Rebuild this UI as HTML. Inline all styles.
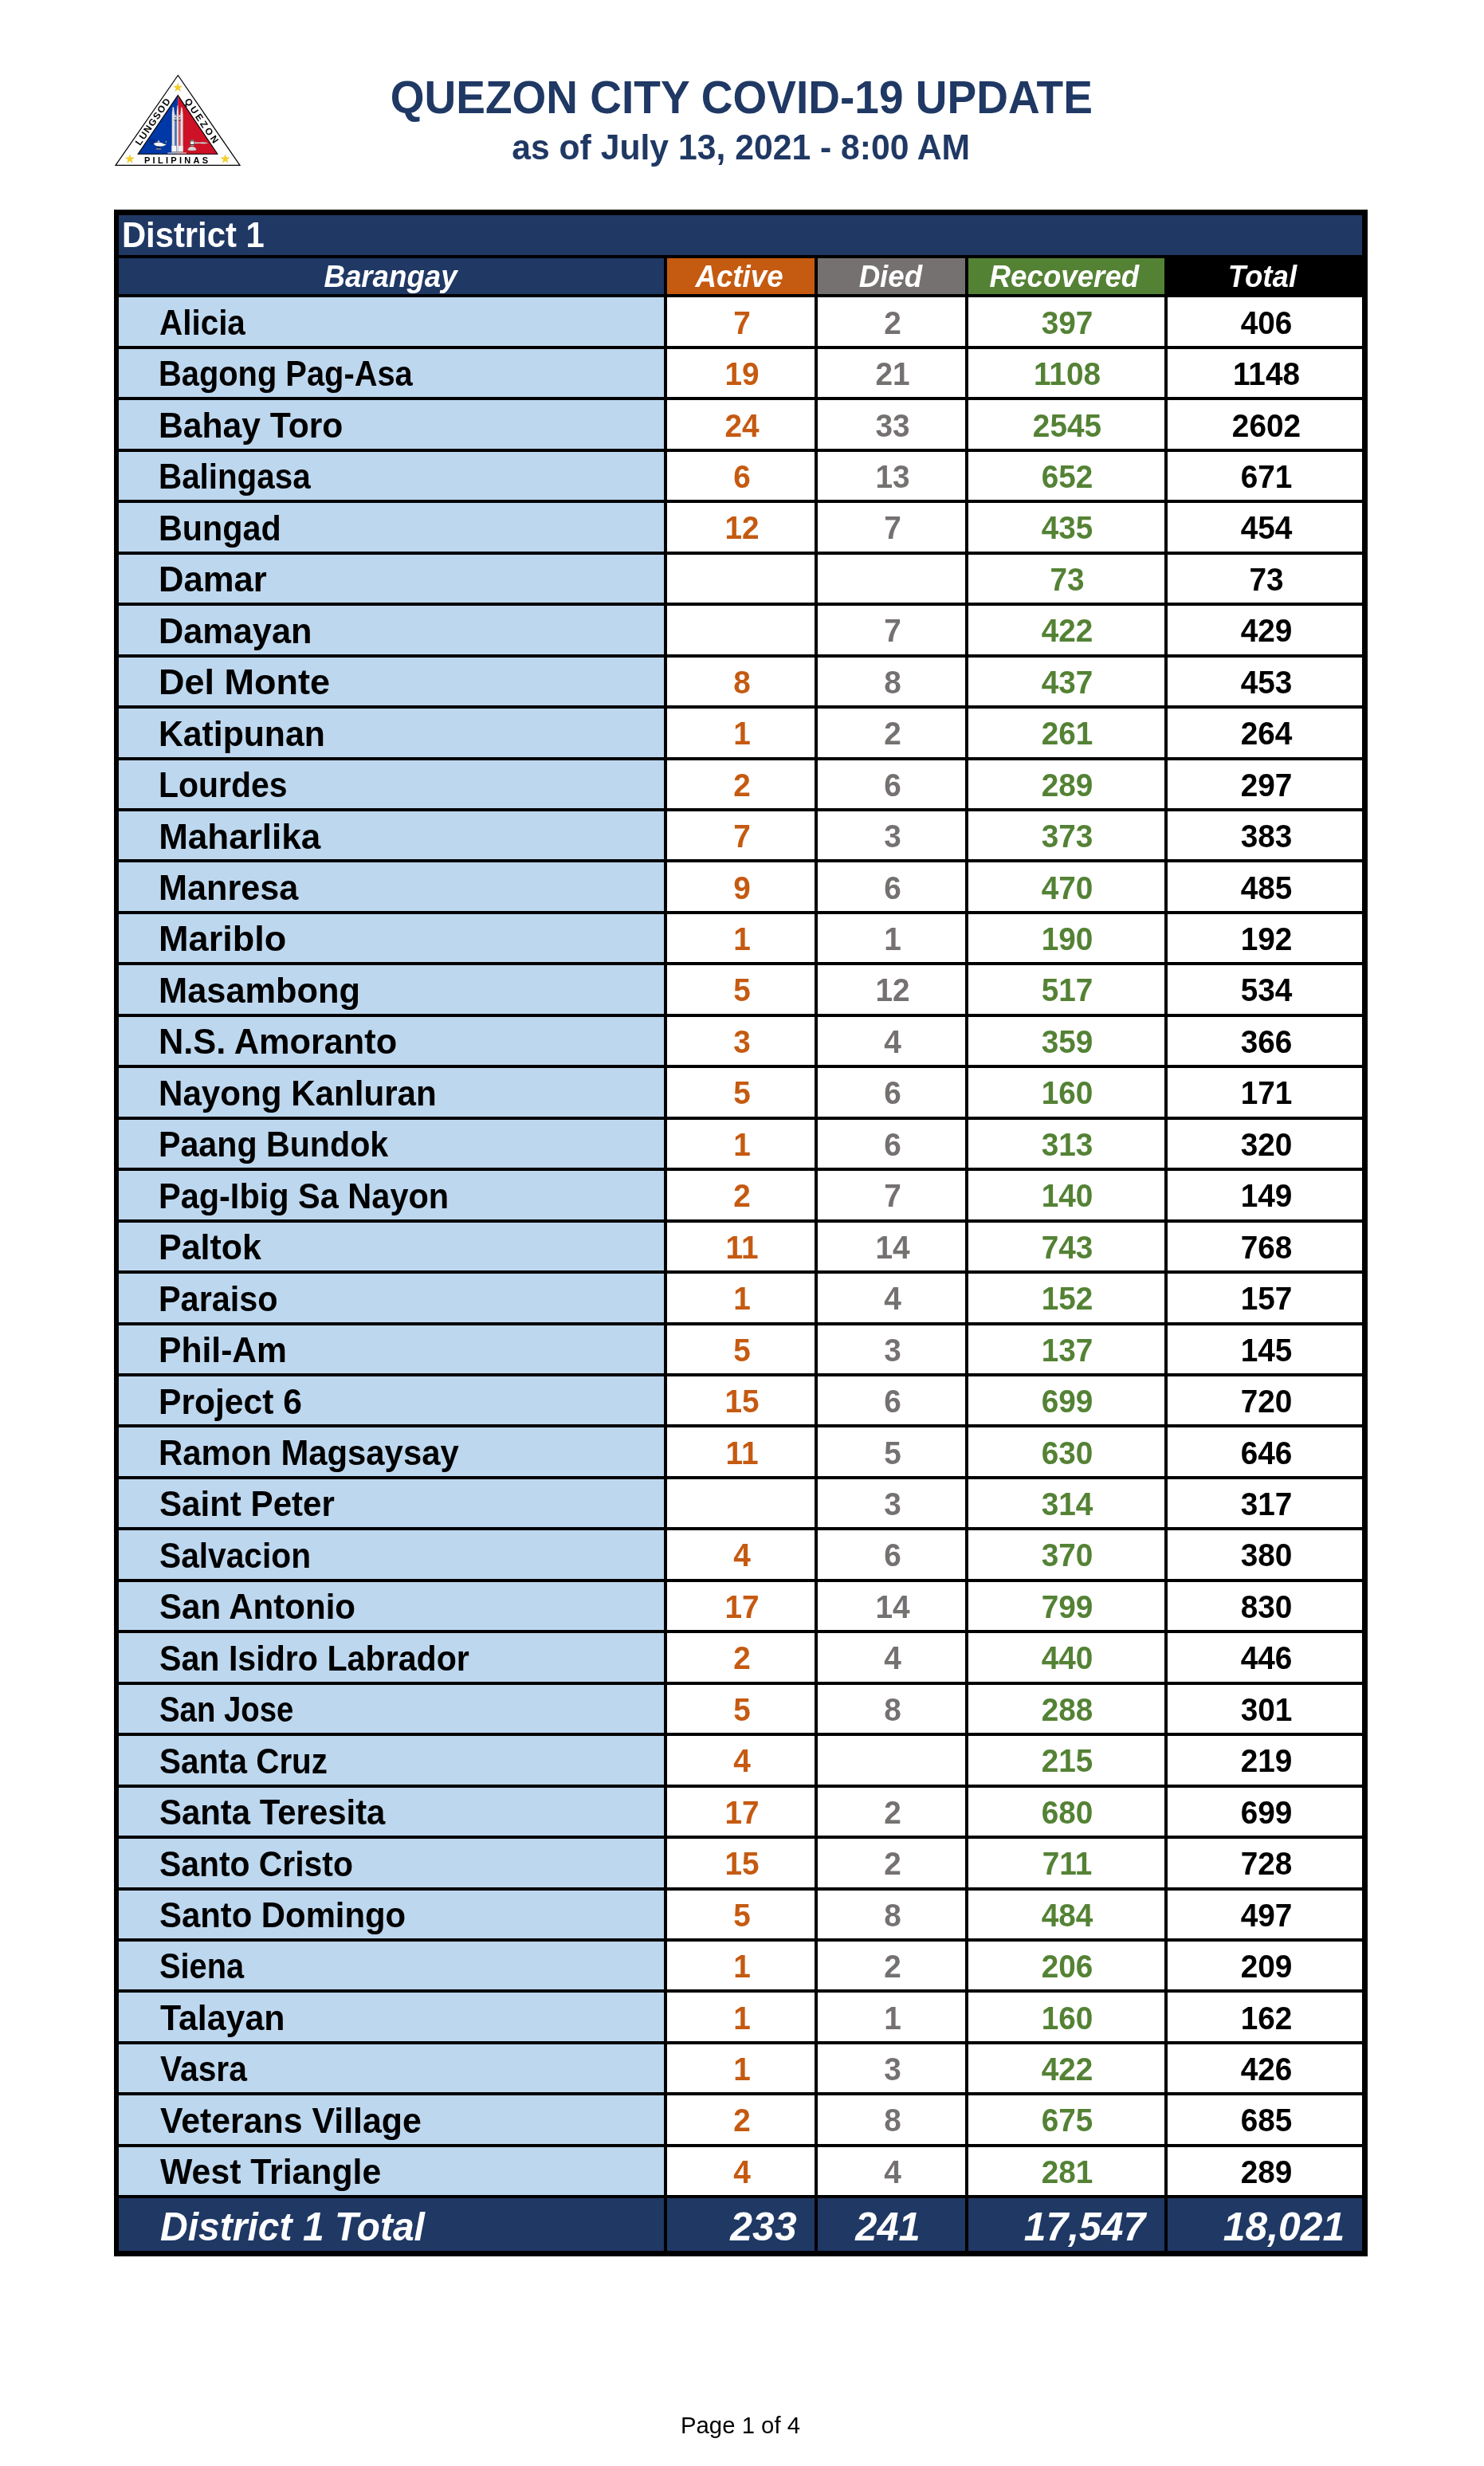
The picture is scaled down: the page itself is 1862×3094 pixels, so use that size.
<!DOCTYPE html>
<html><head><meta charset="utf-8"><title>Quezon City COVID-19 Update</title>
<style>
html,body{margin:0;padding:0;background:#fff}
body{width:1862px;height:3094px;position:relative;overflow:hidden;font-family:"Liberation Sans",sans-serif}
#page{position:absolute;left:0;top:0;width:1862px;height:3094px;background:#fff;will-change:transform;transform:translateZ(0)}
.r{position:absolute}
.t{position:absolute;white-space:nowrap;line-height:1;font-family:"Liberation Sans",sans-serif}
.b{font-weight:bold}
.bi{font-weight:bold;font-style:italic}
.n{font-weight:normal}
svg{position:absolute}
</style></head><body><div id="page">
<svg style="left:130px;top:80px" width="190" height="140" viewBox="130 80 190 140">
<polygon points="223.3,94.5 145.0,207.3 301.0,207.3" fill="#fff" stroke="#000" stroke-width="1.25" stroke-linejoin="miter"/>
<polygon points="223.2,119.6 173.2,193.3 223.2,193.3" fill="#0038a8"/>
<polygon points="223.2,119.6 223.2,193.3 272.9,193.3" fill="#ce1126"/>
<polygon points="223.2,119.6 173.2,193.3 272.9,193.3" fill="none" stroke="#000" stroke-width="1.1" stroke-linejoin="miter"/>
<polygon points="223.20,104.30 224.46,108.17 228.53,108.17 225.23,110.56 226.49,114.43 223.20,112.04 219.91,114.43 221.17,110.56 217.87,108.17 221.94,108.17" fill="#fcd116" stroke="#c9a40e" stroke-width="0.3"/>
<polygon points="162.90,194.00 164.16,197.87 168.23,197.87 164.93,200.26 166.19,204.13 162.90,201.74 159.61,204.13 160.87,200.26 157.57,197.87 161.64,197.87" fill="#fcd116" stroke="#c9a40e" stroke-width="0.3"/>
<polygon points="282.60,194.00 283.86,197.87 287.93,197.87 284.63,200.26 285.89,204.13 282.60,201.74 279.31,204.13 280.57,200.26 277.27,197.87 281.34,197.87" fill="#fcd116" stroke="#c9a40e" stroke-width="0.3"/>
<g>
<rect x="219.0" y="143.5" width="2.8" height="39.3" fill="#fff" opacity="0.28"/>
<rect x="223.8" y="143.5" width="2.8" height="39.3" fill="#fff" opacity="0.30"/>
<polygon points="215.8,190.2 215.8,143 216.6,134.4 218.0,134.4 219.1,143 219.1,190.2" fill="#e4e4e4" stroke="#9a9a9a" stroke-width="0.35"/>
<polygon points="226.5,190.2 226.5,143 227.3,134.7 228.5,134.7 229.6,143 229.6,190.2" fill="#e4e4e4" stroke="#9a9a9a" stroke-width="0.35"/>
<polygon points="221.8,190.2 221.8,140 222.5,132.3 223.3,132.3 223.9,140 223.9,190.2" fill="#f2f2f2" stroke="#8e8e8e" stroke-width="0.35"/>
<polygon points="219.1,143.8 221.8,146.6 221.8,150.6 219.1,150.6" fill="#d9d9dc"/>
<polygon points="226.5,143.8 223.9,146.6 223.9,150.6 226.5,150.6" fill="#d9d9dc"/>
<rect x="218.4" y="150.3" width="3.4" height="0.9" fill="#222"/><rect x="223.9" y="150.3" width="3.2" height="0.9" fill="#222"/>
<rect x="219.4" y="147.0" width="2.0" height="1.6" fill="#3a55b0"/><rect x="224.3" y="147.0" width="1.8" height="1.6" fill="#b01a2a"/>
<rect x="215.3" y="182.8" width="6.1" height="7.4" fill="#f6f6f6" stroke="#aaa" stroke-width="0.3"/>
<rect x="223.9" y="182.8" width="5.9" height="7.4" fill="#f0f0f0" stroke="#aaa" stroke-width="0.3"/>
<rect x="215.2" y="190.1" width="14.7" height="1.6" fill="#8f8f8f"/>
<rect x="210.4" y="191.2" width="23.6" height="1.7" fill="#fff" opacity="0.55"/>
</g>
<g>
<circle cx="190.8" cy="177.7" r="3.1" fill="none" stroke="#0b1a55" stroke-width="0.7"/>
<circle cx="191.2" cy="177.7" r="1.6" fill="none" stroke="#0b1a55" stroke-width="0.4"/>
<path d="M192.4,180.0 C194.5,179.2 196.3,178.5 198.9,178.4 C201.6,178.4 203.6,179.2 205.6,180.4 L209.0,181.2 C207.4,182.8 203.8,183.8 200.2,183.8 C196.2,183.8 193.6,182.4 192.4,180.0 Z" fill="#fff" stroke="#2a2a2a" stroke-width="0.35"/>
<path d="M197.5,178.4 L198.1,176.3 L199.9,176.3 L200.5,178.4 Z" fill="#f4f4f4" stroke="#222" stroke-width="0.35"/>
<rect x="198.2" y="183.8" width="1.5" height="2.3" fill="#111"/>
<path d="M194.6,186.9 C196,185.9 202,185.9 203.4,186.9 C202,187.6 196,187.6 194.6,186.9 Z" fill="#fff" stroke="#111" stroke-width="0.45"/>
<path d="M208.4,175.4 L209.1,177.4 L208.9,179.4 L207.9,179.4 L207.7,177.4 Z" fill="#e9dfa6" stroke="#0b1a55" stroke-width="0.5"/>
</g>
<g>
<rect x="238.8" y="175.4" width="4.8" height="7.5" rx="0.8" fill="#f2f2f2" stroke="#3a3a3a" stroke-width="0.5"/>
<rect x="238.8" y="176.3" width="4.8" height="1.0" fill="#2a2a2a"/><rect x="238.8" y="181.0" width="4.8" height="1.1" fill="#2a2a2a"/>
<path d="M243.6,178.3 L250,178.5 L255,178.3 L260.4,179.0 L260.6,179.9 L255,180.4 L250,180.1 L243.6,180.3 Z" fill="#dedede" stroke="#7d3038" stroke-width="0.3"/>
<path d="M235.5,188.3 C236.2,185.2 238.3,184.1 241,184.1 C243.7,184.1 245.8,185.2 246.5,188.3 C244,189.3 238,189.3 235.5,188.3 Z" fill="#cfd3d3" stroke="#8c8c8c" stroke-width="0.3"/>
<path d="M237.2,186.0 C239,185.1 243,185.1 244.8,186.0" fill="none" stroke="#f4f4f4" stroke-width="0.6"/>
</g>
<text transform="translate(195.4,154.5) rotate(-55.60)" text-anchor="middle" font-family="Liberation Sans, sans-serif" font-weight="bold" font-size="11.9" letter-spacing="1.45" fill="#000">LUNGSOD</text>
<text transform="translate(250.4,154.9) rotate(55.60)" text-anchor="middle" font-family="Liberation Sans, sans-serif" font-weight="bold" font-size="11.9" letter-spacing="2.9" fill="#000">QUEZON</text>
<text x="181.0" y="204.9" font-family="Liberation Sans, sans-serif" font-weight="bold" font-size="11" textLength="80" lengthAdjust="spacing" fill="#000">PILIPINAS</text>
</svg>
<div class="t b" id="title" style="left:230.30px;top:96px;font-size:55.0px;color:#1f3864;width:1400px;text-align:center;transform:scale(1.0000,1.0410);transform-origin:50% 46px;">QUEZON CITY COVID-19 UPDATE</div>
<div class="t b" id="sub" style="left:229.70px;top:164px;font-size:42.7px;color:#1f3864;width:1400px;text-align:center;transform:scale(1.0000,1.0410);transform-origin:50% 36px;">as of July 13, 2021 - 8:00 AM</div>
<div class="r" style="left:143px;top:263px;width:1573px;height:2568px;background:#000"></div>
<div class="r" style="left:149px;top:270px;width:1560px;height:50px;background:#1f3864"></div>
<div class="r" style="left:149px;top:324px;width:684px;height:45px;background:#1f3864"></div>
<div class="r" style="left:837px;top:324px;width:185px;height:45px;background:#c55a11"></div>
<div class="r" style="left:1026px;top:324px;width:185px;height:45px;background:#767171"></div>
<div class="r" style="left:1215px;top:324px;width:246px;height:45px;background:#548235"></div>
<div class="r" style="left:149px;top:373px;width:684px;height:61px;background:#bdd7ee"></div>
<div class="r" style="left:837px;top:373px;width:185px;height:61px;background:#fff"></div>
<div class="r" style="left:1026px;top:373px;width:185px;height:61px;background:#fff"></div>
<div class="r" style="left:1215px;top:373px;width:246px;height:61px;background:#fff"></div>
<div class="r" style="left:1465px;top:373px;width:244px;height:61px;background:#fff"></div>
<div class="r" style="left:149px;top:438px;width:684px;height:60px;background:#bdd7ee"></div>
<div class="r" style="left:837px;top:438px;width:185px;height:60px;background:#fff"></div>
<div class="r" style="left:1026px;top:438px;width:185px;height:60px;background:#fff"></div>
<div class="r" style="left:1215px;top:438px;width:246px;height:60px;background:#fff"></div>
<div class="r" style="left:1465px;top:438px;width:244px;height:60px;background:#fff"></div>
<div class="r" style="left:149px;top:502px;width:684px;height:61px;background:#bdd7ee"></div>
<div class="r" style="left:837px;top:502px;width:185px;height:61px;background:#fff"></div>
<div class="r" style="left:1026px;top:502px;width:185px;height:61px;background:#fff"></div>
<div class="r" style="left:1215px;top:502px;width:246px;height:61px;background:#fff"></div>
<div class="r" style="left:1465px;top:502px;width:244px;height:61px;background:#fff"></div>
<div class="r" style="left:149px;top:567px;width:684px;height:60px;background:#bdd7ee"></div>
<div class="r" style="left:837px;top:567px;width:185px;height:60px;background:#fff"></div>
<div class="r" style="left:1026px;top:567px;width:185px;height:60px;background:#fff"></div>
<div class="r" style="left:1215px;top:567px;width:246px;height:60px;background:#fff"></div>
<div class="r" style="left:1465px;top:567px;width:244px;height:60px;background:#fff"></div>
<div class="r" style="left:149px;top:631px;width:684px;height:61px;background:#bdd7ee"></div>
<div class="r" style="left:837px;top:631px;width:185px;height:61px;background:#fff"></div>
<div class="r" style="left:1026px;top:631px;width:185px;height:61px;background:#fff"></div>
<div class="r" style="left:1215px;top:631px;width:246px;height:61px;background:#fff"></div>
<div class="r" style="left:1465px;top:631px;width:244px;height:61px;background:#fff"></div>
<div class="r" style="left:149px;top:696px;width:684px;height:60px;background:#bdd7ee"></div>
<div class="r" style="left:837px;top:696px;width:185px;height:60px;background:#fff"></div>
<div class="r" style="left:1026px;top:696px;width:185px;height:60px;background:#fff"></div>
<div class="r" style="left:1215px;top:696px;width:246px;height:60px;background:#fff"></div>
<div class="r" style="left:1465px;top:696px;width:244px;height:60px;background:#fff"></div>
<div class="r" style="left:149px;top:760px;width:684px;height:61px;background:#bdd7ee"></div>
<div class="r" style="left:837px;top:760px;width:185px;height:61px;background:#fff"></div>
<div class="r" style="left:1026px;top:760px;width:185px;height:61px;background:#fff"></div>
<div class="r" style="left:1215px;top:760px;width:246px;height:61px;background:#fff"></div>
<div class="r" style="left:1465px;top:760px;width:244px;height:61px;background:#fff"></div>
<div class="r" style="left:149px;top:825px;width:684px;height:60px;background:#bdd7ee"></div>
<div class="r" style="left:837px;top:825px;width:185px;height:60px;background:#fff"></div>
<div class="r" style="left:1026px;top:825px;width:185px;height:60px;background:#fff"></div>
<div class="r" style="left:1215px;top:825px;width:246px;height:60px;background:#fff"></div>
<div class="r" style="left:1465px;top:825px;width:244px;height:60px;background:#fff"></div>
<div class="r" style="left:149px;top:889px;width:684px;height:61px;background:#bdd7ee"></div>
<div class="r" style="left:837px;top:889px;width:185px;height:61px;background:#fff"></div>
<div class="r" style="left:1026px;top:889px;width:185px;height:61px;background:#fff"></div>
<div class="r" style="left:1215px;top:889px;width:246px;height:61px;background:#fff"></div>
<div class="r" style="left:1465px;top:889px;width:244px;height:61px;background:#fff"></div>
<div class="r" style="left:149px;top:954px;width:684px;height:60px;background:#bdd7ee"></div>
<div class="r" style="left:837px;top:954px;width:185px;height:60px;background:#fff"></div>
<div class="r" style="left:1026px;top:954px;width:185px;height:60px;background:#fff"></div>
<div class="r" style="left:1215px;top:954px;width:246px;height:60px;background:#fff"></div>
<div class="r" style="left:1465px;top:954px;width:244px;height:60px;background:#fff"></div>
<div class="r" style="left:149px;top:1018px;width:684px;height:60px;background:#bdd7ee"></div>
<div class="r" style="left:837px;top:1018px;width:185px;height:60px;background:#fff"></div>
<div class="r" style="left:1026px;top:1018px;width:185px;height:60px;background:#fff"></div>
<div class="r" style="left:1215px;top:1018px;width:246px;height:60px;background:#fff"></div>
<div class="r" style="left:1465px;top:1018px;width:244px;height:60px;background:#fff"></div>
<div class="r" style="left:149px;top:1082px;width:684px;height:61px;background:#bdd7ee"></div>
<div class="r" style="left:837px;top:1082px;width:185px;height:61px;background:#fff"></div>
<div class="r" style="left:1026px;top:1082px;width:185px;height:61px;background:#fff"></div>
<div class="r" style="left:1215px;top:1082px;width:246px;height:61px;background:#fff"></div>
<div class="r" style="left:1465px;top:1082px;width:244px;height:61px;background:#fff"></div>
<div class="r" style="left:149px;top:1147px;width:684px;height:60px;background:#bdd7ee"></div>
<div class="r" style="left:837px;top:1147px;width:185px;height:60px;background:#fff"></div>
<div class="r" style="left:1026px;top:1147px;width:185px;height:60px;background:#fff"></div>
<div class="r" style="left:1215px;top:1147px;width:246px;height:60px;background:#fff"></div>
<div class="r" style="left:1465px;top:1147px;width:244px;height:60px;background:#fff"></div>
<div class="r" style="left:149px;top:1211px;width:684px;height:61px;background:#bdd7ee"></div>
<div class="r" style="left:837px;top:1211px;width:185px;height:61px;background:#fff"></div>
<div class="r" style="left:1026px;top:1211px;width:185px;height:61px;background:#fff"></div>
<div class="r" style="left:1215px;top:1211px;width:246px;height:61px;background:#fff"></div>
<div class="r" style="left:1465px;top:1211px;width:244px;height:61px;background:#fff"></div>
<div class="r" style="left:149px;top:1276px;width:684px;height:60px;background:#bdd7ee"></div>
<div class="r" style="left:837px;top:1276px;width:185px;height:60px;background:#fff"></div>
<div class="r" style="left:1026px;top:1276px;width:185px;height:60px;background:#fff"></div>
<div class="r" style="left:1215px;top:1276px;width:246px;height:60px;background:#fff"></div>
<div class="r" style="left:1465px;top:1276px;width:244px;height:60px;background:#fff"></div>
<div class="r" style="left:149px;top:1340px;width:684px;height:61px;background:#bdd7ee"></div>
<div class="r" style="left:837px;top:1340px;width:185px;height:61px;background:#fff"></div>
<div class="r" style="left:1026px;top:1340px;width:185px;height:61px;background:#fff"></div>
<div class="r" style="left:1215px;top:1340px;width:246px;height:61px;background:#fff"></div>
<div class="r" style="left:1465px;top:1340px;width:244px;height:61px;background:#fff"></div>
<div class="r" style="left:149px;top:1405px;width:684px;height:60px;background:#bdd7ee"></div>
<div class="r" style="left:837px;top:1405px;width:185px;height:60px;background:#fff"></div>
<div class="r" style="left:1026px;top:1405px;width:185px;height:60px;background:#fff"></div>
<div class="r" style="left:1215px;top:1405px;width:246px;height:60px;background:#fff"></div>
<div class="r" style="left:1465px;top:1405px;width:244px;height:60px;background:#fff"></div>
<div class="r" style="left:149px;top:1469px;width:684px;height:61px;background:#bdd7ee"></div>
<div class="r" style="left:837px;top:1469px;width:185px;height:61px;background:#fff"></div>
<div class="r" style="left:1026px;top:1469px;width:185px;height:61px;background:#fff"></div>
<div class="r" style="left:1215px;top:1469px;width:246px;height:61px;background:#fff"></div>
<div class="r" style="left:1465px;top:1469px;width:244px;height:61px;background:#fff"></div>
<div class="r" style="left:149px;top:1534px;width:684px;height:60px;background:#bdd7ee"></div>
<div class="r" style="left:837px;top:1534px;width:185px;height:60px;background:#fff"></div>
<div class="r" style="left:1026px;top:1534px;width:185px;height:60px;background:#fff"></div>
<div class="r" style="left:1215px;top:1534px;width:246px;height:60px;background:#fff"></div>
<div class="r" style="left:1465px;top:1534px;width:244px;height:60px;background:#fff"></div>
<div class="r" style="left:149px;top:1598px;width:684px;height:61px;background:#bdd7ee"></div>
<div class="r" style="left:837px;top:1598px;width:185px;height:61px;background:#fff"></div>
<div class="r" style="left:1026px;top:1598px;width:185px;height:61px;background:#fff"></div>
<div class="r" style="left:1215px;top:1598px;width:246px;height:61px;background:#fff"></div>
<div class="r" style="left:1465px;top:1598px;width:244px;height:61px;background:#fff"></div>
<div class="r" style="left:149px;top:1663px;width:684px;height:60px;background:#bdd7ee"></div>
<div class="r" style="left:837px;top:1663px;width:185px;height:60px;background:#fff"></div>
<div class="r" style="left:1026px;top:1663px;width:185px;height:60px;background:#fff"></div>
<div class="r" style="left:1215px;top:1663px;width:246px;height:60px;background:#fff"></div>
<div class="r" style="left:1465px;top:1663px;width:244px;height:60px;background:#fff"></div>
<div class="r" style="left:149px;top:1727px;width:684px;height:60px;background:#bdd7ee"></div>
<div class="r" style="left:837px;top:1727px;width:185px;height:60px;background:#fff"></div>
<div class="r" style="left:1026px;top:1727px;width:185px;height:60px;background:#fff"></div>
<div class="r" style="left:1215px;top:1727px;width:246px;height:60px;background:#fff"></div>
<div class="r" style="left:1465px;top:1727px;width:244px;height:60px;background:#fff"></div>
<div class="r" style="left:149px;top:1791px;width:684px;height:61px;background:#bdd7ee"></div>
<div class="r" style="left:837px;top:1791px;width:185px;height:61px;background:#fff"></div>
<div class="r" style="left:1026px;top:1791px;width:185px;height:61px;background:#fff"></div>
<div class="r" style="left:1215px;top:1791px;width:246px;height:61px;background:#fff"></div>
<div class="r" style="left:1465px;top:1791px;width:244px;height:61px;background:#fff"></div>
<div class="r" style="left:149px;top:1856px;width:684px;height:60px;background:#bdd7ee"></div>
<div class="r" style="left:837px;top:1856px;width:185px;height:60px;background:#fff"></div>
<div class="r" style="left:1026px;top:1856px;width:185px;height:60px;background:#fff"></div>
<div class="r" style="left:1215px;top:1856px;width:246px;height:60px;background:#fff"></div>
<div class="r" style="left:1465px;top:1856px;width:244px;height:60px;background:#fff"></div>
<div class="r" style="left:149px;top:1920px;width:684px;height:61px;background:#bdd7ee"></div>
<div class="r" style="left:837px;top:1920px;width:185px;height:61px;background:#fff"></div>
<div class="r" style="left:1026px;top:1920px;width:185px;height:61px;background:#fff"></div>
<div class="r" style="left:1215px;top:1920px;width:246px;height:61px;background:#fff"></div>
<div class="r" style="left:1465px;top:1920px;width:244px;height:61px;background:#fff"></div>
<div class="r" style="left:149px;top:1985px;width:684px;height:60px;background:#bdd7ee"></div>
<div class="r" style="left:837px;top:1985px;width:185px;height:60px;background:#fff"></div>
<div class="r" style="left:1026px;top:1985px;width:185px;height:60px;background:#fff"></div>
<div class="r" style="left:1215px;top:1985px;width:246px;height:60px;background:#fff"></div>
<div class="r" style="left:1465px;top:1985px;width:244px;height:60px;background:#fff"></div>
<div class="r" style="left:149px;top:2049px;width:684px;height:61px;background:#bdd7ee"></div>
<div class="r" style="left:837px;top:2049px;width:185px;height:61px;background:#fff"></div>
<div class="r" style="left:1026px;top:2049px;width:185px;height:61px;background:#fff"></div>
<div class="r" style="left:1215px;top:2049px;width:246px;height:61px;background:#fff"></div>
<div class="r" style="left:1465px;top:2049px;width:244px;height:61px;background:#fff"></div>
<div class="r" style="left:149px;top:2114px;width:684px;height:60px;background:#bdd7ee"></div>
<div class="r" style="left:837px;top:2114px;width:185px;height:60px;background:#fff"></div>
<div class="r" style="left:1026px;top:2114px;width:185px;height:60px;background:#fff"></div>
<div class="r" style="left:1215px;top:2114px;width:246px;height:60px;background:#fff"></div>
<div class="r" style="left:1465px;top:2114px;width:244px;height:60px;background:#fff"></div>
<div class="r" style="left:149px;top:2178px;width:684px;height:61px;background:#bdd7ee"></div>
<div class="r" style="left:837px;top:2178px;width:185px;height:61px;background:#fff"></div>
<div class="r" style="left:1026px;top:2178px;width:185px;height:61px;background:#fff"></div>
<div class="r" style="left:1215px;top:2178px;width:246px;height:61px;background:#fff"></div>
<div class="r" style="left:1465px;top:2178px;width:244px;height:61px;background:#fff"></div>
<div class="r" style="left:149px;top:2243px;width:684px;height:60px;background:#bdd7ee"></div>
<div class="r" style="left:837px;top:2243px;width:185px;height:60px;background:#fff"></div>
<div class="r" style="left:1026px;top:2243px;width:185px;height:60px;background:#fff"></div>
<div class="r" style="left:1215px;top:2243px;width:246px;height:60px;background:#fff"></div>
<div class="r" style="left:1465px;top:2243px;width:244px;height:60px;background:#fff"></div>
<div class="r" style="left:149px;top:2307px;width:684px;height:61px;background:#bdd7ee"></div>
<div class="r" style="left:837px;top:2307px;width:185px;height:61px;background:#fff"></div>
<div class="r" style="left:1026px;top:2307px;width:185px;height:61px;background:#fff"></div>
<div class="r" style="left:1215px;top:2307px;width:246px;height:61px;background:#fff"></div>
<div class="r" style="left:1465px;top:2307px;width:244px;height:61px;background:#fff"></div>
<div class="r" style="left:149px;top:2372px;width:684px;height:60px;background:#bdd7ee"></div>
<div class="r" style="left:837px;top:2372px;width:185px;height:60px;background:#fff"></div>
<div class="r" style="left:1026px;top:2372px;width:185px;height:60px;background:#fff"></div>
<div class="r" style="left:1215px;top:2372px;width:246px;height:60px;background:#fff"></div>
<div class="r" style="left:1465px;top:2372px;width:244px;height:60px;background:#fff"></div>
<div class="r" style="left:149px;top:2436px;width:684px;height:60px;background:#bdd7ee"></div>
<div class="r" style="left:837px;top:2436px;width:185px;height:60px;background:#fff"></div>
<div class="r" style="left:1026px;top:2436px;width:185px;height:60px;background:#fff"></div>
<div class="r" style="left:1215px;top:2436px;width:246px;height:60px;background:#fff"></div>
<div class="r" style="left:1465px;top:2436px;width:244px;height:60px;background:#fff"></div>
<div class="r" style="left:149px;top:2500px;width:684px;height:61px;background:#bdd7ee"></div>
<div class="r" style="left:837px;top:2500px;width:185px;height:61px;background:#fff"></div>
<div class="r" style="left:1026px;top:2500px;width:185px;height:61px;background:#fff"></div>
<div class="r" style="left:1215px;top:2500px;width:246px;height:61px;background:#fff"></div>
<div class="r" style="left:1465px;top:2500px;width:244px;height:61px;background:#fff"></div>
<div class="r" style="left:149px;top:2565px;width:684px;height:60px;background:#bdd7ee"></div>
<div class="r" style="left:837px;top:2565px;width:185px;height:60px;background:#fff"></div>
<div class="r" style="left:1026px;top:2565px;width:185px;height:60px;background:#fff"></div>
<div class="r" style="left:1215px;top:2565px;width:246px;height:60px;background:#fff"></div>
<div class="r" style="left:1465px;top:2565px;width:244px;height:60px;background:#fff"></div>
<div class="r" style="left:149px;top:2629px;width:684px;height:61px;background:#bdd7ee"></div>
<div class="r" style="left:837px;top:2629px;width:185px;height:61px;background:#fff"></div>
<div class="r" style="left:1026px;top:2629px;width:185px;height:61px;background:#fff"></div>
<div class="r" style="left:1215px;top:2629px;width:246px;height:61px;background:#fff"></div>
<div class="r" style="left:1465px;top:2629px;width:244px;height:61px;background:#fff"></div>
<div class="r" style="left:149px;top:2694px;width:684px;height:60px;background:#bdd7ee"></div>
<div class="r" style="left:837px;top:2694px;width:185px;height:60px;background:#fff"></div>
<div class="r" style="left:1026px;top:2694px;width:185px;height:60px;background:#fff"></div>
<div class="r" style="left:1215px;top:2694px;width:246px;height:60px;background:#fff"></div>
<div class="r" style="left:1465px;top:2694px;width:244px;height:60px;background:#fff"></div>
<div class="r" style="left:149px;top:2758px;width:684px;height:66px;background:#1f3864"></div>
<div class="r" style="left:837px;top:2758px;width:185px;height:66px;background:#1f3864"></div>
<div class="r" style="left:1026px;top:2758px;width:185px;height:66px;background:#1f3864"></div>
<div class="r" style="left:1215px;top:2758px;width:246px;height:66px;background:#1f3864"></div>
<div class="r" style="left:1465px;top:2758px;width:244px;height:66px;background:#1f3864"></div>
<div class="t b" id="dist" style="left:152.90px;top:275px;font-size:41.8px;color:#fff;transform:scale(1.0000,1.0410);transform-origin:0 35px;">District 1</div>
<div class="t bi" id="h0" style="left:190.00px;top:330px;font-size:36.7px;color:#fff;width:600px;text-align:center;transform:scale(1.0000,1.0410);transform-origin:50% 30px;">Barangay</div>
<div class="t bi" id="h1" style="left:837.50px;top:330px;font-size:36.7px;color:#fff;width:180px;text-align:center;transform:scale(1.0000,1.0410);transform-origin:50% 30px;">Active</div>
<div class="t bi" id="h2" style="left:1027.40px;top:330px;font-size:36.7px;color:#fff;width:180px;text-align:center;transform:scale(1.0000,1.0410);transform-origin:50% 30px;">Died</div>
<div class="t bi" id="h3" style="left:1215.40px;top:330px;font-size:36.7px;color:#fff;width:240px;text-align:center;transform:scale(1.0000,1.0410);transform-origin:50% 30px;">Recovered</div>
<div class="t bi" id="h4" style="left:1464.00px;top:330px;font-size:36.7px;color:#fff;width:240px;text-align:center;transform:scale(1.0000,1.0410);transform-origin:50% 30px;">Total</div>
<div class="t b" id="n0" style="left:200.20px;top:383px;font-size:44.0px;color:#000;transform:scale(0.9186,1.0000);transform-origin:0 37px;">Alicia</div>
<div class="t b" id="d0_0" style="left:851.00px;top:386px;font-size:40.2px;color:#c55a11;width:160px;text-align:center;transform:scale(0.9650,1.0000);transform-origin:50% 33px;">7</div>
<div class="t b" id="d0_1" style="left:1039.50px;top:386px;font-size:40.2px;color:#767171;width:160px;text-align:center;transform:scale(0.9650,1.0000);transform-origin:50% 33px;">2</div>
<div class="t b" id="d0_2" style="left:1259.30px;top:386px;font-size:40.2px;color:#548235;width:160px;text-align:center;transform:scale(0.9650,1.0000);transform-origin:50% 33px;">397</div>
<div class="t b" id="d0_3" style="left:1508.70px;top:386px;font-size:40.2px;color:#000;width:160px;text-align:center;transform:scale(0.9650,1.0000);transform-origin:50% 33px;">406</div>
<div class="t b" id="n1" style="left:199.20px;top:447px;font-size:44.0px;color:#000;transform:scale(0.9054,1.0000);transform-origin:0 37px;">Bagong Pag-Asa</div>
<div class="t b" id="d1_0" style="left:851.00px;top:450px;font-size:40.2px;color:#c55a11;width:160px;text-align:center;transform:scale(0.9650,1.0000);transform-origin:50% 33px;">19</div>
<div class="t b" id="d1_1" style="left:1039.50px;top:450px;font-size:40.2px;color:#767171;width:160px;text-align:center;transform:scale(0.9650,1.0000);transform-origin:50% 33px;">21</div>
<div class="t b" id="d1_2" style="left:1259.30px;top:450px;font-size:40.2px;color:#548235;width:160px;text-align:center;transform:scale(0.9650,1.0000);transform-origin:50% 33px;">1108</div>
<div class="t b" id="d1_3" style="left:1508.70px;top:450px;font-size:40.2px;color:#000;width:160px;text-align:center;transform:scale(0.9650,1.0000);transform-origin:50% 33px;">1148</div>
<div class="t b" id="n2" style="left:199.20px;top:512px;font-size:44.0px;color:#000;transform:scale(0.9689,1.0000);transform-origin:0 37px;">Bahay Toro</div>
<div class="t b" id="d2_0" style="left:851.00px;top:515px;font-size:40.2px;color:#c55a11;width:160px;text-align:center;transform:scale(0.9650,1.0000);transform-origin:50% 33px;">24</div>
<div class="t b" id="d2_1" style="left:1039.50px;top:515px;font-size:40.2px;color:#767171;width:160px;text-align:center;transform:scale(0.9650,1.0000);transform-origin:50% 33px;">33</div>
<div class="t b" id="d2_2" style="left:1259.30px;top:515px;font-size:40.2px;color:#548235;width:160px;text-align:center;transform:scale(0.9650,1.0000);transform-origin:50% 33px;">2545</div>
<div class="t b" id="d2_3" style="left:1508.70px;top:515px;font-size:40.2px;color:#000;width:160px;text-align:center;transform:scale(0.9650,1.0000);transform-origin:50% 33px;">2602</div>
<div class="t b" id="n3" style="left:199.20px;top:576px;font-size:44.0px;color:#000;transform:scale(0.9168,1.0000);transform-origin:0 37px;">Balingasa</div>
<div class="t b" id="d3_0" style="left:851.00px;top:579px;font-size:40.2px;color:#c55a11;width:160px;text-align:center;transform:scale(0.9650,1.0000);transform-origin:50% 33px;">6</div>
<div class="t b" id="d3_1" style="left:1039.50px;top:579px;font-size:40.2px;color:#767171;width:160px;text-align:center;transform:scale(0.9650,1.0000);transform-origin:50% 33px;">13</div>
<div class="t b" id="d3_2" style="left:1259.30px;top:579px;font-size:40.2px;color:#548235;width:160px;text-align:center;transform:scale(0.9650,1.0000);transform-origin:50% 33px;">652</div>
<div class="t b" id="d3_3" style="left:1508.70px;top:579px;font-size:40.2px;color:#000;width:160px;text-align:center;transform:scale(0.9650,1.0000);transform-origin:50% 33px;">671</div>
<div class="t b" id="n4" style="left:199.20px;top:641px;font-size:44.0px;color:#000;transform:scale(0.9380,1.0000);transform-origin:0 37px;">Bungad</div>
<div class="t b" id="d4_0" style="left:851.00px;top:643px;font-size:40.2px;color:#c55a11;width:160px;text-align:center;transform:scale(0.9650,1.0000);transform-origin:50% 33px;">12</div>
<div class="t b" id="d4_1" style="left:1039.50px;top:643px;font-size:40.2px;color:#767171;width:160px;text-align:center;transform:scale(0.9650,1.0000);transform-origin:50% 33px;">7</div>
<div class="t b" id="d4_2" style="left:1259.30px;top:643px;font-size:40.2px;color:#548235;width:160px;text-align:center;transform:scale(0.9650,1.0000);transform-origin:50% 33px;">435</div>
<div class="t b" id="d4_3" style="left:1508.70px;top:643px;font-size:40.2px;color:#000;width:160px;text-align:center;transform:scale(0.9650,1.0000);transform-origin:50% 33px;">454</div>
<div class="t b" id="n5" style="left:199.20px;top:705px;font-size:44.0px;color:#000;transform:scale(0.9912,1.0000);transform-origin:0 37px;">Damar</div>
<div class="t b" id="d5_2" style="left:1259.30px;top:708px;font-size:40.2px;color:#548235;width:160px;text-align:center;transform:scale(0.9650,1.0000);transform-origin:50% 33px;">73</div>
<div class="t b" id="d5_3" style="left:1508.70px;top:708px;font-size:40.2px;color:#000;width:160px;text-align:center;transform:scale(0.9650,1.0000);transform-origin:50% 33px;">73</div>
<div class="t b" id="n6" style="left:199.20px;top:770px;font-size:44.0px;color:#000;transform:scale(0.9836,1.0000);transform-origin:0 37px;">Damayan</div>
<div class="t b" id="d6_1" style="left:1039.50px;top:772px;font-size:40.2px;color:#767171;width:160px;text-align:center;transform:scale(0.9650,1.0000);transform-origin:50% 33px;">7</div>
<div class="t b" id="d6_2" style="left:1259.30px;top:772px;font-size:40.2px;color:#548235;width:160px;text-align:center;transform:scale(0.9650,1.0000);transform-origin:50% 33px;">422</div>
<div class="t b" id="d6_3" style="left:1508.70px;top:772px;font-size:40.2px;color:#000;width:160px;text-align:center;transform:scale(0.9650,1.0000);transform-origin:50% 33px;">429</div>
<div class="t b" id="n7" style="left:199.20px;top:834px;font-size:44.0px;color:#000;transform:scale(1.0229,1.0000);transform-origin:0 37px;">Del Monte</div>
<div class="t b" id="d7_0" style="left:851.00px;top:837px;font-size:40.2px;color:#c55a11;width:160px;text-align:center;transform:scale(0.9650,1.0000);transform-origin:50% 33px;">8</div>
<div class="t b" id="d7_1" style="left:1039.50px;top:837px;font-size:40.2px;color:#767171;width:160px;text-align:center;transform:scale(0.9650,1.0000);transform-origin:50% 33px;">8</div>
<div class="t b" id="d7_2" style="left:1259.30px;top:837px;font-size:40.2px;color:#548235;width:160px;text-align:center;transform:scale(0.9650,1.0000);transform-origin:50% 33px;">437</div>
<div class="t b" id="d7_3" style="left:1508.70px;top:837px;font-size:40.2px;color:#000;width:160px;text-align:center;transform:scale(0.9650,1.0000);transform-origin:50% 33px;">453</div>
<div class="t b" id="n8" style="left:199.20px;top:899px;font-size:44.0px;color:#000;transform:scale(0.9703,1.0000);transform-origin:0 37px;">Katipunan</div>
<div class="t b" id="d8_0" style="left:851.00px;top:901px;font-size:40.2px;color:#c55a11;width:160px;text-align:center;transform:scale(0.9650,1.0000);transform-origin:50% 33px;">1</div>
<div class="t b" id="d8_1" style="left:1039.50px;top:901px;font-size:40.2px;color:#767171;width:160px;text-align:center;transform:scale(0.9650,1.0000);transform-origin:50% 33px;">2</div>
<div class="t b" id="d8_2" style="left:1259.30px;top:901px;font-size:40.2px;color:#548235;width:160px;text-align:center;transform:scale(0.9650,1.0000);transform-origin:50% 33px;">261</div>
<div class="t b" id="d8_3" style="left:1508.70px;top:901px;font-size:40.2px;color:#000;width:160px;text-align:center;transform:scale(0.9650,1.0000);transform-origin:50% 33px;">264</div>
<div class="t b" id="n9" style="left:199.20px;top:963px;font-size:44.0px;color:#000;transform:scale(0.9302,1.0000);transform-origin:0 37px;">Lourdes</div>
<div class="t b" id="d9_0" style="left:851.00px;top:966px;font-size:40.2px;color:#c55a11;width:160px;text-align:center;transform:scale(0.9650,1.0000);transform-origin:50% 33px;">2</div>
<div class="t b" id="d9_1" style="left:1039.50px;top:966px;font-size:40.2px;color:#767171;width:160px;text-align:center;transform:scale(0.9650,1.0000);transform-origin:50% 33px;">6</div>
<div class="t b" id="d9_2" style="left:1259.30px;top:966px;font-size:40.2px;color:#548235;width:160px;text-align:center;transform:scale(0.9650,1.0000);transform-origin:50% 33px;">289</div>
<div class="t b" id="d9_3" style="left:1508.70px;top:966px;font-size:40.2px;color:#000;width:160px;text-align:center;transform:scale(0.9650,1.0000);transform-origin:50% 33px;">297</div>
<div class="t b" id="n10" style="left:199.20px;top:1028px;font-size:44.0px;color:#000;">Maharlika</div>
<div class="t b" id="d10_0" style="left:851.00px;top:1030px;font-size:40.2px;color:#c55a11;width:160px;text-align:center;transform:scale(0.9650,1.0000);transform-origin:50% 33px;">7</div>
<div class="t b" id="d10_1" style="left:1039.50px;top:1030px;font-size:40.2px;color:#767171;width:160px;text-align:center;transform:scale(0.9650,1.0000);transform-origin:50% 33px;">3</div>
<div class="t b" id="d10_2" style="left:1259.30px;top:1030px;font-size:40.2px;color:#548235;width:160px;text-align:center;transform:scale(0.9650,1.0000);transform-origin:50% 33px;">373</div>
<div class="t b" id="d10_3" style="left:1508.70px;top:1030px;font-size:40.2px;color:#000;width:160px;text-align:center;transform:scale(0.9650,1.0000);transform-origin:50% 33px;">383</div>
<div class="t b" id="n11" style="left:199.20px;top:1092px;font-size:44.0px;color:#000;transform:scale(0.9817,1.0000);transform-origin:0 37px;">Manresa</div>
<div class="t b" id="d11_0" style="left:851.00px;top:1095px;font-size:40.2px;color:#c55a11;width:160px;text-align:center;transform:scale(0.9650,1.0000);transform-origin:50% 33px;">9</div>
<div class="t b" id="d11_1" style="left:1039.50px;top:1095px;font-size:40.2px;color:#767171;width:160px;text-align:center;transform:scale(0.9650,1.0000);transform-origin:50% 33px;">6</div>
<div class="t b" id="d11_2" style="left:1259.30px;top:1095px;font-size:40.2px;color:#548235;width:160px;text-align:center;transform:scale(0.9650,1.0000);transform-origin:50% 33px;">470</div>
<div class="t b" id="d11_3" style="left:1508.70px;top:1095px;font-size:40.2px;color:#000;width:160px;text-align:center;transform:scale(0.9650,1.0000);transform-origin:50% 33px;">485</div>
<div class="t b" id="n12" style="left:199.20px;top:1156px;font-size:44.0px;color:#000;transform:scale(1.0247,1.0000);transform-origin:0 37px;">Mariblo</div>
<div class="t b" id="d12_0" style="left:851.00px;top:1159px;font-size:40.2px;color:#c55a11;width:160px;text-align:center;transform:scale(0.9650,1.0000);transform-origin:50% 33px;">1</div>
<div class="t b" id="d12_1" style="left:1039.50px;top:1159px;font-size:40.2px;color:#767171;width:160px;text-align:center;transform:scale(0.9650,1.0000);transform-origin:50% 33px;">1</div>
<div class="t b" id="d12_2" style="left:1259.30px;top:1159px;font-size:40.2px;color:#548235;width:160px;text-align:center;transform:scale(0.9650,1.0000);transform-origin:50% 33px;">190</div>
<div class="t b" id="d12_3" style="left:1508.70px;top:1159px;font-size:40.2px;color:#000;width:160px;text-align:center;transform:scale(0.9650,1.0000);transform-origin:50% 33px;">192</div>
<div class="t b" id="n13" style="left:199.20px;top:1221px;font-size:44.0px;color:#000;transform:scale(0.9858,1.0000);transform-origin:0 37px;">Masambong</div>
<div class="t b" id="d13_0" style="left:851.00px;top:1223px;font-size:40.2px;color:#c55a11;width:160px;text-align:center;transform:scale(0.9650,1.0000);transform-origin:50% 33px;">5</div>
<div class="t b" id="d13_1" style="left:1039.50px;top:1223px;font-size:40.2px;color:#767171;width:160px;text-align:center;transform:scale(0.9650,1.0000);transform-origin:50% 33px;">12</div>
<div class="t b" id="d13_2" style="left:1259.30px;top:1223px;font-size:40.2px;color:#548235;width:160px;text-align:center;transform:scale(0.9650,1.0000);transform-origin:50% 33px;">517</div>
<div class="t b" id="d13_3" style="left:1508.70px;top:1223px;font-size:40.2px;color:#000;width:160px;text-align:center;transform:scale(0.9650,1.0000);transform-origin:50% 33px;">534</div>
<div class="t b" id="n14" style="left:199.20px;top:1285px;font-size:44.0px;color:#000;transform:scale(0.9842,1.0000);transform-origin:0 37px;">N.S. Amoranto</div>
<div class="t b" id="d14_0" style="left:851.00px;top:1288px;font-size:40.2px;color:#c55a11;width:160px;text-align:center;transform:scale(0.9650,1.0000);transform-origin:50% 33px;">3</div>
<div class="t b" id="d14_1" style="left:1039.50px;top:1288px;font-size:40.2px;color:#767171;width:160px;text-align:center;transform:scale(0.9650,1.0000);transform-origin:50% 33px;">4</div>
<div class="t b" id="d14_2" style="left:1259.30px;top:1288px;font-size:40.2px;color:#548235;width:160px;text-align:center;transform:scale(0.9650,1.0000);transform-origin:50% 33px;">359</div>
<div class="t b" id="d14_3" style="left:1508.70px;top:1288px;font-size:40.2px;color:#000;width:160px;text-align:center;transform:scale(0.9650,1.0000);transform-origin:50% 33px;">366</div>
<div class="t b" id="n15" style="left:199.20px;top:1350px;font-size:44.0px;color:#000;transform:scale(0.9575,1.0000);transform-origin:0 37px;">Nayong Kanluran</div>
<div class="t b" id="d15_0" style="left:851.00px;top:1352px;font-size:40.2px;color:#c55a11;width:160px;text-align:center;transform:scale(0.9650,1.0000);transform-origin:50% 33px;">5</div>
<div class="t b" id="d15_1" style="left:1039.50px;top:1352px;font-size:40.2px;color:#767171;width:160px;text-align:center;transform:scale(0.9650,1.0000);transform-origin:50% 33px;">6</div>
<div class="t b" id="d15_2" style="left:1259.30px;top:1352px;font-size:40.2px;color:#548235;width:160px;text-align:center;transform:scale(0.9650,1.0000);transform-origin:50% 33px;">160</div>
<div class="t b" id="d15_3" style="left:1508.70px;top:1352px;font-size:40.2px;color:#000;width:160px;text-align:center;transform:scale(0.9650,1.0000);transform-origin:50% 33px;">171</div>
<div class="t b" id="n16" style="left:199.20px;top:1414px;font-size:44.0px;color:#000;transform:scale(0.9356,1.0000);transform-origin:0 37px;">Paang Bundok</div>
<div class="t b" id="d16_0" style="left:851.00px;top:1417px;font-size:40.2px;color:#c55a11;width:160px;text-align:center;transform:scale(0.9650,1.0000);transform-origin:50% 33px;">1</div>
<div class="t b" id="d16_1" style="left:1039.50px;top:1417px;font-size:40.2px;color:#767171;width:160px;text-align:center;transform:scale(0.9650,1.0000);transform-origin:50% 33px;">6</div>
<div class="t b" id="d16_2" style="left:1259.30px;top:1417px;font-size:40.2px;color:#548235;width:160px;text-align:center;transform:scale(0.9650,1.0000);transform-origin:50% 33px;">313</div>
<div class="t b" id="d16_3" style="left:1508.70px;top:1417px;font-size:40.2px;color:#000;width:160px;text-align:center;transform:scale(0.9650,1.0000);transform-origin:50% 33px;">320</div>
<div class="t b" id="n17" style="left:199.20px;top:1479px;font-size:44.0px;color:#000;transform:scale(0.9426,1.0000);transform-origin:0 37px;">Pag-Ibig Sa Nayon</div>
<div class="t b" id="d17_0" style="left:851.00px;top:1481px;font-size:40.2px;color:#c55a11;width:160px;text-align:center;transform:scale(0.9650,1.0000);transform-origin:50% 33px;">2</div>
<div class="t b" id="d17_1" style="left:1039.50px;top:1481px;font-size:40.2px;color:#767171;width:160px;text-align:center;transform:scale(0.9650,1.0000);transform-origin:50% 33px;">7</div>
<div class="t b" id="d17_2" style="left:1259.30px;top:1481px;font-size:40.2px;color:#548235;width:160px;text-align:center;transform:scale(0.9650,1.0000);transform-origin:50% 33px;">140</div>
<div class="t b" id="d17_3" style="left:1508.70px;top:1481px;font-size:40.2px;color:#000;width:160px;text-align:center;transform:scale(0.9650,1.0000);transform-origin:50% 33px;">149</div>
<div class="t b" id="n18" style="left:199.20px;top:1543px;font-size:44.0px;color:#000;transform:scale(0.9769,1.0000);transform-origin:0 37px;">Paltok</div>
<div class="t b" id="d18_0" style="left:851.00px;top:1546px;font-size:40.2px;color:#c55a11;width:160px;text-align:center;transform:scale(0.9650,1.0000);transform-origin:50% 33px;">11</div>
<div class="t b" id="d18_1" style="left:1039.50px;top:1546px;font-size:40.2px;color:#767171;width:160px;text-align:center;transform:scale(0.9650,1.0000);transform-origin:50% 33px;">14</div>
<div class="t b" id="d18_2" style="left:1259.30px;top:1546px;font-size:40.2px;color:#548235;width:160px;text-align:center;transform:scale(0.9650,1.0000);transform-origin:50% 33px;">743</div>
<div class="t b" id="d18_3" style="left:1508.70px;top:1546px;font-size:40.2px;color:#000;width:160px;text-align:center;transform:scale(0.9650,1.0000);transform-origin:50% 33px;">768</div>
<div class="t b" id="n19" style="left:199.20px;top:1608px;font-size:44.0px;color:#000;transform:scale(0.9412,1.0000);transform-origin:0 37px;">Paraiso</div>
<div class="t b" id="d19_0" style="left:851.00px;top:1610px;font-size:40.2px;color:#c55a11;width:160px;text-align:center;transform:scale(0.9650,1.0000);transform-origin:50% 33px;">1</div>
<div class="t b" id="d19_1" style="left:1039.50px;top:1610px;font-size:40.2px;color:#767171;width:160px;text-align:center;transform:scale(0.9650,1.0000);transform-origin:50% 33px;">4</div>
<div class="t b" id="d19_2" style="left:1259.30px;top:1610px;font-size:40.2px;color:#548235;width:160px;text-align:center;transform:scale(0.9650,1.0000);transform-origin:50% 33px;">152</div>
<div class="t b" id="d19_3" style="left:1508.70px;top:1610px;font-size:40.2px;color:#000;width:160px;text-align:center;transform:scale(0.9650,1.0000);transform-origin:50% 33px;">157</div>
<div class="t b" id="n20" style="left:199.20px;top:1672px;font-size:44.0px;color:#000;transform:scale(0.9686,1.0000);transform-origin:0 37px;">Phil-Am</div>
<div class="t b" id="d20_0" style="left:851.00px;top:1675px;font-size:40.2px;color:#c55a11;width:160px;text-align:center;transform:scale(0.9650,1.0000);transform-origin:50% 33px;">5</div>
<div class="t b" id="d20_1" style="left:1039.50px;top:1675px;font-size:40.2px;color:#767171;width:160px;text-align:center;transform:scale(0.9650,1.0000);transform-origin:50% 33px;">3</div>
<div class="t b" id="d20_2" style="left:1259.30px;top:1675px;font-size:40.2px;color:#548235;width:160px;text-align:center;transform:scale(0.9650,1.0000);transform-origin:50% 33px;">137</div>
<div class="t b" id="d20_3" style="left:1508.70px;top:1675px;font-size:40.2px;color:#000;width:160px;text-align:center;transform:scale(0.9650,1.0000);transform-origin:50% 33px;">145</div>
<div class="t b" id="n21" style="left:199.20px;top:1737px;font-size:44.0px;color:#000;transform:scale(0.9674,1.0000);transform-origin:0 37px;">Project 6</div>
<div class="t b" id="d21_0" style="left:851.00px;top:1739px;font-size:40.2px;color:#c55a11;width:160px;text-align:center;transform:scale(0.9650,1.0000);transform-origin:50% 33px;">15</div>
<div class="t b" id="d21_1" style="left:1039.50px;top:1739px;font-size:40.2px;color:#767171;width:160px;text-align:center;transform:scale(0.9650,1.0000);transform-origin:50% 33px;">6</div>
<div class="t b" id="d21_2" style="left:1259.30px;top:1739px;font-size:40.2px;color:#548235;width:160px;text-align:center;transform:scale(0.9650,1.0000);transform-origin:50% 33px;">699</div>
<div class="t b" id="d21_3" style="left:1508.70px;top:1739px;font-size:40.2px;color:#000;width:160px;text-align:center;transform:scale(0.9650,1.0000);transform-origin:50% 33px;">720</div>
<div class="t b" id="n22" style="left:199.20px;top:1801px;font-size:44.0px;color:#000;transform:scale(0.9508,1.0000);transform-origin:0 37px;">Ramon Magsaysay</div>
<div class="t b" id="d22_0" style="left:851.00px;top:1804px;font-size:40.2px;color:#c55a11;width:160px;text-align:center;transform:scale(0.9650,1.0000);transform-origin:50% 33px;">11</div>
<div class="t b" id="d22_1" style="left:1039.50px;top:1804px;font-size:40.2px;color:#767171;width:160px;text-align:center;transform:scale(0.9650,1.0000);transform-origin:50% 33px;">5</div>
<div class="t b" id="d22_2" style="left:1259.30px;top:1804px;font-size:40.2px;color:#548235;width:160px;text-align:center;transform:scale(0.9650,1.0000);transform-origin:50% 33px;">630</div>
<div class="t b" id="d22_3" style="left:1508.70px;top:1804px;font-size:40.2px;color:#000;width:160px;text-align:center;transform:scale(0.9650,1.0000);transform-origin:50% 33px;">646</div>
<div class="t b" id="n23" style="left:200.30px;top:1865px;font-size:44.0px;color:#000;transform:scale(0.9564,1.0000);transform-origin:0 37px;">Saint Peter</div>
<div class="t b" id="d23_1" style="left:1039.50px;top:1868px;font-size:40.2px;color:#767171;width:160px;text-align:center;transform:scale(0.9650,1.0000);transform-origin:50% 33px;">3</div>
<div class="t b" id="d23_2" style="left:1259.30px;top:1868px;font-size:40.2px;color:#548235;width:160px;text-align:center;transform:scale(0.9650,1.0000);transform-origin:50% 33px;">314</div>
<div class="t b" id="d23_3" style="left:1508.70px;top:1868px;font-size:40.2px;color:#000;width:160px;text-align:center;transform:scale(0.9650,1.0000);transform-origin:50% 33px;">317</div>
<div class="t b" id="n24" style="left:200.30px;top:1930px;font-size:44.0px;color:#000;transform:scale(0.9248,1.0000);transform-origin:0 37px;">Salvacion</div>
<div class="t b" id="d24_0" style="left:851.00px;top:1932px;font-size:40.2px;color:#c55a11;width:160px;text-align:center;transform:scale(0.9650,1.0000);transform-origin:50% 33px;">4</div>
<div class="t b" id="d24_1" style="left:1039.50px;top:1932px;font-size:40.2px;color:#767171;width:160px;text-align:center;transform:scale(0.9650,1.0000);transform-origin:50% 33px;">6</div>
<div class="t b" id="d24_2" style="left:1259.30px;top:1932px;font-size:40.2px;color:#548235;width:160px;text-align:center;transform:scale(0.9650,1.0000);transform-origin:50% 33px;">370</div>
<div class="t b" id="d24_3" style="left:1508.70px;top:1932px;font-size:40.2px;color:#000;width:160px;text-align:center;transform:scale(0.9650,1.0000);transform-origin:50% 33px;">380</div>
<div class="t b" id="n25" style="left:200.30px;top:1994px;font-size:44.0px;color:#000;transform:scale(0.9555,1.0000);transform-origin:0 37px;">San Antonio</div>
<div class="t b" id="d25_0" style="left:851.00px;top:1997px;font-size:40.2px;color:#c55a11;width:160px;text-align:center;transform:scale(0.9650,1.0000);transform-origin:50% 33px;">17</div>
<div class="t b" id="d25_1" style="left:1039.50px;top:1997px;font-size:40.2px;color:#767171;width:160px;text-align:center;transform:scale(0.9650,1.0000);transform-origin:50% 33px;">14</div>
<div class="t b" id="d25_2" style="left:1259.30px;top:1997px;font-size:40.2px;color:#548235;width:160px;text-align:center;transform:scale(0.9650,1.0000);transform-origin:50% 33px;">799</div>
<div class="t b" id="d25_3" style="left:1508.70px;top:1997px;font-size:40.2px;color:#000;width:160px;text-align:center;transform:scale(0.9650,1.0000);transform-origin:50% 33px;">830</div>
<div class="t b" id="n26" style="left:200.30px;top:2059px;font-size:44.0px;color:#000;transform:scale(0.9356,1.0000);transform-origin:0 37px;">San Isidro Labrador</div>
<div class="t b" id="d26_0" style="left:851.00px;top:2061px;font-size:40.2px;color:#c55a11;width:160px;text-align:center;transform:scale(0.9650,1.0000);transform-origin:50% 33px;">2</div>
<div class="t b" id="d26_1" style="left:1039.50px;top:2061px;font-size:40.2px;color:#767171;width:160px;text-align:center;transform:scale(0.9650,1.0000);transform-origin:50% 33px;">4</div>
<div class="t b" id="d26_2" style="left:1259.30px;top:2061px;font-size:40.2px;color:#548235;width:160px;text-align:center;transform:scale(0.9650,1.0000);transform-origin:50% 33px;">440</div>
<div class="t b" id="d26_3" style="left:1508.70px;top:2061px;font-size:40.2px;color:#000;width:160px;text-align:center;transform:scale(0.9650,1.0000);transform-origin:50% 33px;">446</div>
<div class="t b" id="n27" style="left:200.30px;top:2123px;font-size:44.0px;color:#000;transform:scale(0.8710,1.0000);transform-origin:0 37px;">San Jose</div>
<div class="t b" id="d27_0" style="left:851.00px;top:2126px;font-size:40.2px;color:#c55a11;width:160px;text-align:center;transform:scale(0.9650,1.0000);transform-origin:50% 33px;">5</div>
<div class="t b" id="d27_1" style="left:1039.50px;top:2126px;font-size:40.2px;color:#767171;width:160px;text-align:center;transform:scale(0.9650,1.0000);transform-origin:50% 33px;">8</div>
<div class="t b" id="d27_2" style="left:1259.30px;top:2126px;font-size:40.2px;color:#548235;width:160px;text-align:center;transform:scale(0.9650,1.0000);transform-origin:50% 33px;">288</div>
<div class="t b" id="d27_3" style="left:1508.70px;top:2126px;font-size:40.2px;color:#000;width:160px;text-align:center;transform:scale(0.9650,1.0000);transform-origin:50% 33px;">301</div>
<div class="t b" id="n28" style="left:200.30px;top:2188px;font-size:44.0px;color:#000;transform:scale(0.9180,1.0000);transform-origin:0 37px;">Santa Cruz</div>
<div class="t b" id="d28_0" style="left:851.00px;top:2190px;font-size:40.2px;color:#c55a11;width:160px;text-align:center;transform:scale(0.9650,1.0000);transform-origin:50% 33px;">4</div>
<div class="t b" id="d28_2" style="left:1259.30px;top:2190px;font-size:40.2px;color:#548235;width:160px;text-align:center;transform:scale(0.9650,1.0000);transform-origin:50% 33px;">215</div>
<div class="t b" id="d28_3" style="left:1508.70px;top:2190px;font-size:40.2px;color:#000;width:160px;text-align:center;transform:scale(0.9650,1.0000);transform-origin:50% 33px;">219</div>
<div class="t b" id="n29" style="left:200.30px;top:2252px;font-size:44.0px;color:#000;transform:scale(0.9525,1.0000);transform-origin:0 37px;">Santa Teresita</div>
<div class="t b" id="d29_0" style="left:851.00px;top:2255px;font-size:40.2px;color:#c55a11;width:160px;text-align:center;transform:scale(0.9650,1.0000);transform-origin:50% 33px;">17</div>
<div class="t b" id="d29_1" style="left:1039.50px;top:2255px;font-size:40.2px;color:#767171;width:160px;text-align:center;transform:scale(0.9650,1.0000);transform-origin:50% 33px;">2</div>
<div class="t b" id="d29_2" style="left:1259.30px;top:2255px;font-size:40.2px;color:#548235;width:160px;text-align:center;transform:scale(0.9650,1.0000);transform-origin:50% 33px;">680</div>
<div class="t b" id="d29_3" style="left:1508.70px;top:2255px;font-size:40.2px;color:#000;width:160px;text-align:center;transform:scale(0.9650,1.0000);transform-origin:50% 33px;">699</div>
<div class="t b" id="n30" style="left:200.30px;top:2317px;font-size:44.0px;color:#000;transform:scale(0.9286,1.0000);transform-origin:0 37px;">Santo Cristo</div>
<div class="t b" id="d30_0" style="left:851.00px;top:2319px;font-size:40.2px;color:#c55a11;width:160px;text-align:center;transform:scale(0.9650,1.0000);transform-origin:50% 33px;">15</div>
<div class="t b" id="d30_1" style="left:1039.50px;top:2319px;font-size:40.2px;color:#767171;width:160px;text-align:center;transform:scale(0.9650,1.0000);transform-origin:50% 33px;">2</div>
<div class="t b" id="d30_2" style="left:1259.30px;top:2319px;font-size:40.2px;color:#548235;width:160px;text-align:center;transform:scale(0.9650,1.0000);transform-origin:50% 33px;">711</div>
<div class="t b" id="d30_3" style="left:1508.70px;top:2319px;font-size:40.2px;color:#000;width:160px;text-align:center;transform:scale(0.9650,1.0000);transform-origin:50% 33px;">728</div>
<div class="t b" id="n31" style="left:200.30px;top:2381px;font-size:44.0px;color:#000;transform:scale(0.9510,1.0000);transform-origin:0 37px;">Santo Domingo</div>
<div class="t b" id="d31_0" style="left:851.00px;top:2384px;font-size:40.2px;color:#c55a11;width:160px;text-align:center;transform:scale(0.9650,1.0000);transform-origin:50% 33px;">5</div>
<div class="t b" id="d31_1" style="left:1039.50px;top:2384px;font-size:40.2px;color:#767171;width:160px;text-align:center;transform:scale(0.9650,1.0000);transform-origin:50% 33px;">8</div>
<div class="t b" id="d31_2" style="left:1259.30px;top:2384px;font-size:40.2px;color:#548235;width:160px;text-align:center;transform:scale(0.9650,1.0000);transform-origin:50% 33px;">484</div>
<div class="t b" id="d31_3" style="left:1508.70px;top:2384px;font-size:40.2px;color:#000;width:160px;text-align:center;transform:scale(0.9650,1.0000);transform-origin:50% 33px;">497</div>
<div class="t b" id="n32" style="left:200.30px;top:2445px;font-size:44.0px;color:#000;transform:scale(0.9032,1.0000);transform-origin:0 37px;">Siena</div>
<div class="t b" id="d32_0" style="left:851.00px;top:2448px;font-size:40.2px;color:#c55a11;width:160px;text-align:center;transform:scale(0.9650,1.0000);transform-origin:50% 33px;">1</div>
<div class="t b" id="d32_1" style="left:1039.50px;top:2448px;font-size:40.2px;color:#767171;width:160px;text-align:center;transform:scale(0.9650,1.0000);transform-origin:50% 33px;">2</div>
<div class="t b" id="d32_2" style="left:1259.30px;top:2448px;font-size:40.2px;color:#548235;width:160px;text-align:center;transform:scale(0.9650,1.0000);transform-origin:50% 33px;">206</div>
<div class="t b" id="d32_3" style="left:1508.70px;top:2448px;font-size:40.2px;color:#000;width:160px;text-align:center;transform:scale(0.9650,1.0000);transform-origin:50% 33px;">209</div>
<div class="t b" id="n33" style="left:201.20px;top:2510px;font-size:44.0px;color:#000;transform:scale(0.9745,1.0000);transform-origin:0 37px;">Talayan</div>
<div class="t b" id="d33_0" style="left:851.00px;top:2513px;font-size:40.2px;color:#c55a11;width:160px;text-align:center;transform:scale(0.9650,1.0000);transform-origin:50% 33px;">1</div>
<div class="t b" id="d33_1" style="left:1039.50px;top:2513px;font-size:40.2px;color:#767171;width:160px;text-align:center;transform:scale(0.9650,1.0000);transform-origin:50% 33px;">1</div>
<div class="t b" id="d33_2" style="left:1259.30px;top:2513px;font-size:40.2px;color:#548235;width:160px;text-align:center;transform:scale(0.9650,1.0000);transform-origin:50% 33px;">160</div>
<div class="t b" id="d33_3" style="left:1508.70px;top:2513px;font-size:40.2px;color:#000;width:160px;text-align:center;transform:scale(0.9650,1.0000);transform-origin:50% 33px;">162</div>
<div class="t b" id="n34" style="left:201.20px;top:2574px;font-size:44.0px;color:#000;transform:scale(0.9271,1.0000);transform-origin:0 37px;">Vasra</div>
<div class="t b" id="d34_0" style="left:851.00px;top:2577px;font-size:40.2px;color:#c55a11;width:160px;text-align:center;transform:scale(0.9650,1.0000);transform-origin:50% 33px;">1</div>
<div class="t b" id="d34_1" style="left:1039.50px;top:2577px;font-size:40.2px;color:#767171;width:160px;text-align:center;transform:scale(0.9650,1.0000);transform-origin:50% 33px;">3</div>
<div class="t b" id="d34_2" style="left:1259.30px;top:2577px;font-size:40.2px;color:#548235;width:160px;text-align:center;transform:scale(0.9650,1.0000);transform-origin:50% 33px;">422</div>
<div class="t b" id="d34_3" style="left:1508.70px;top:2577px;font-size:40.2px;color:#000;width:160px;text-align:center;transform:scale(0.9650,1.0000);transform-origin:50% 33px;">426</div>
<div class="t b" id="n35" style="left:201.20px;top:2639px;font-size:44.0px;color:#000;transform:scale(0.9733,1.0000);transform-origin:0 37px;">Veterans Village</div>
<div class="t b" id="d35_0" style="left:851.00px;top:2641px;font-size:40.2px;color:#c55a11;width:160px;text-align:center;transform:scale(0.9650,1.0000);transform-origin:50% 33px;">2</div>
<div class="t b" id="d35_1" style="left:1039.50px;top:2641px;font-size:40.2px;color:#767171;width:160px;text-align:center;transform:scale(0.9650,1.0000);transform-origin:50% 33px;">8</div>
<div class="t b" id="d35_2" style="left:1259.30px;top:2641px;font-size:40.2px;color:#548235;width:160px;text-align:center;transform:scale(0.9650,1.0000);transform-origin:50% 33px;">675</div>
<div class="t b" id="d35_3" style="left:1508.70px;top:2641px;font-size:40.2px;color:#000;width:160px;text-align:center;transform:scale(0.9650,1.0000);transform-origin:50% 33px;">685</div>
<div class="t b" id="n36" style="left:201.20px;top:2703px;font-size:44.0px;color:#000;transform:scale(0.9720,1.0000);transform-origin:0 37px;">West Triangle</div>
<div class="t b" id="d36_0" style="left:851.00px;top:2706px;font-size:40.2px;color:#c55a11;width:160px;text-align:center;transform:scale(0.9650,1.0000);transform-origin:50% 33px;">4</div>
<div class="t b" id="d36_1" style="left:1039.50px;top:2706px;font-size:40.2px;color:#767171;width:160px;text-align:center;transform:scale(0.9650,1.0000);transform-origin:50% 33px;">4</div>
<div class="t b" id="d36_2" style="left:1259.30px;top:2706px;font-size:40.2px;color:#548235;width:160px;text-align:center;transform:scale(0.9650,1.0000);transform-origin:50% 33px;">281</div>
<div class="t b" id="d36_3" style="left:1508.70px;top:2706px;font-size:40.2px;color:#000;width:160px;text-align:center;transform:scale(0.9650,1.0000);transform-origin:50% 33px;">289</div>
<div class="t bi" id="tot" style="left:200.80px;top:2769px;font-size:50.7px;color:#fff;transform:scale(0.9480,1.0000);transform-origin:0 42px;">District 1 Total</div>
<div class="t bi" id="t0" style="left:807.80px;top:2769px;font-size:50.7px;color:#fff;width:300px;text-align:center;transform:scale(0.9858,1.0000);transform-origin:50% 42px;">233</div>
<div class="t bi" id="t1" style="left:963.90px;top:2769px;font-size:50.7px;color:#fff;width:300px;text-align:center;transform:scale(0.9614,1.0000);transform-origin:50% 42px;">241</div>
<div class="t bi" id="t2" style="left:1211.05px;top:2769px;font-size:50.7px;color:#fff;width:300px;text-align:center;transform:scale(0.9834,1.0000);transform-origin:50% 42px;">17,547</div>
<div class="t bi" id="t3" style="left:1461.10px;top:2769px;font-size:50.7px;color:#fff;width:300px;text-align:center;transform:scale(0.9828,1.0000);transform-origin:50% 42px;">18,021</div>
<div class="t n" id="foot" style="left:778.60px;top:3028px;font-size:30.0px;color:#000;width:300px;text-align:center;transform:scale(0.9774,1.0000);transform-origin:50% 25px;">Page 1 of 4</div>
</div></body></html>
